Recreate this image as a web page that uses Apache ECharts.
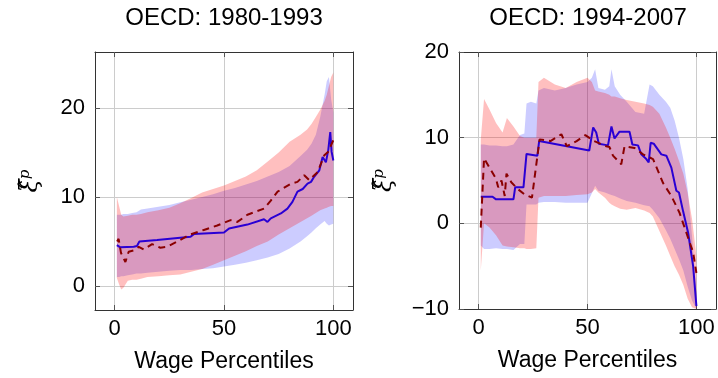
<!DOCTYPE html>
<html>
<head>
<meta charset="utf-8">
<script src="https://cdn.jsdelivr.net/npm/echarts@6/dist/echarts.min.js"></script>
<style>
  html, body { margin: 0; padding: 0; background: #fff; }
  #chart { width: 718px; height: 378px; }
</style>
</head>
<body>
<div id="chart"></div>
<script>
// ---- Panel titles and axis text ----
const panelTitles = ['OECD: 1980-1993', 'OECD: 1994-2007'];
const xAxisTitle = 'Wage Percentiles';
const xTicks = [0, 50, 100];
const yTicksLeft = [0, 10, 20];
const yTicksRight = [-10, 0, 10, 20];

// ---- 1980-1993: estimated profiles (percentile, value) ----
const leftBluePct = [1, 2.6, 8.7, 10.2, 11.3, 19.4, 34.7, 36.2, 50, 52.3, 60.7, 68.3, 69.9, 71.4, 76, 79, 81.3, 83.6, 86, 88.2, 89.8, 91.3, 93.6, 95.1, 96.6, 97.7, 98.6, 99.2, 100];
const leftBlue    = [4.6, 4.34, 4.4, 4.5, 5.0, 5.16, 5.53, 5.83, 6.0, 6.47, 6.9, 7.5, 7.2, 7.6, 8.15, 8.7, 9.45, 10.6, 10.9, 11.5, 11.7, 12.3, 13.0, 14.5, 13.9, 15.3, 17.3, 15.1, 14.1];
const leftRedPct  = [1.1, 1.8, 2.9, 4.9, 6.4, 8.7, 11, 13.3, 17.1, 20.9, 24, 28.6, 34.7, 40.8, 46.9, 53, 56.1, 60.7, 68.3, 71.4, 74.5, 80.6, 83.6, 86.7, 89, 92.8, 95.9, 97.7, 100];
const leftRed     = [5.0, 5.3, 3.7, 2.7, 3.85, 4.0, 4.4, 4.1, 4.7, 4.3, 4.4, 5.0, 5.8, 6.3, 6.8, 7.4, 7.2, 8.0, 8.7, 9.6, 10.6, 11.5, 11.7, 12.45, 11.9, 12.8, 14.7, 15.1, 16.4];

// ---- 1980-1993: confidence bands ----
const leftBandPct = [1, 2, 3, 4, 6, 8, 10, 12, 15, 20, 25, 30, 35, 40, 45, 50, 55, 60, 65, 70, 75, 80, 85, 88, 90, 92, 94, 96, 97, 98, 99, 100];
const leftBlueLo  = [1.0, 1.0, 1.1, 1.1, 1.2, 1.3, 1.4, 1.4, 1.5, 1.6, 1.7, 1.8, 1.8, 1.9, 2.0, 2.2, 2.4, 2.6, 2.9, 3.2, 3.6, 4.2, 5.0, 5.6, 6.0, 6.5, 6.9, 7.3, 7.0, 6.8, 6.9, 7.0];
const leftBlueHi  = [8.0, 8.0, 8.0, 8.1, 8.1, 8.2, 8.3, 8.6, 8.7, 8.9, 9.1, 9.4, 9.7, 10.0, 10.3, 10.7, 11.0, 11.4, 11.8, 12.3, 12.8, 13.5, 14.6, 15.3, 16.0, 17.0, 19.0, 21.5, 23.0, 23.5, 21.0, 19.5];
const leftRedLo   = [0.9, 0.2, -0.4, -0.2, 0.6, 0.7, 0.7, 0.8, 1.0, 1.1, 1.2, 1.3, 1.6, 1.9, 2.4, 2.9, 3.4, 3.9, 4.5, 5.0, 5.8, 6.5, 7.2, 7.6, 7.9, 8.2, 8.5, 8.7, 8.8, 8.9, 9.0, 9.0];
const leftRedHi   = [10.0, 9.0, 8.0, 7.8, 7.9, 8.0, 8.0, 8.1, 8.3, 8.5, 8.8, 9.3, 9.9, 10.5, 10.9, 11.3, 11.8, 12.3, 13.0, 14.0, 15.0, 16.2, 17.0, 17.6, 18.2, 19.0, 19.8, 20.8, 21.5, 22.5, 23.5, 24.0];

// ---- 1994-2007: estimated profiles (percentile, value) ----
const rightBluePct = [1, 6.4, 8, 16, 16.8, 20.6, 22, 27, 27.8, 50.8, 52.6, 54, 55.2, 59.4, 61, 62.4, 64.7, 69.3, 70.6, 73.2, 74.7, 77, 78.1, 79, 80.4, 83.9, 86.2, 88.5, 90.8, 92, 93.9, 96.2, 98.5, 100];
const rightBlue    = [3.1, 3.1, 2.8, 2.8, 4.2, 4.2, 8.1, 7.9, 9.6, 8.5, 11.2, 10.6, 9.3, 9.1, 11.3, 9.9, 10.7, 10.7, 9.2, 9.1, 8.05, 7.5, 7.1, 9.4, 9.3, 8.05, 7.9, 6.5, 3.8, 3.6, 1.4, -1.1, -5.0, -9.65];
const rightRedPct  = [1, 2.5, 5, 8, 9, 10.5, 12, 12.8, 15, 18, 21, 24.5, 28, 33, 38, 40.5, 45, 49, 53, 58.6, 60.1, 61.7, 65.5, 67, 71.6, 75.5, 80.1, 84.7, 88.5, 92.3, 95.4, 98.5, 100];
const rightRed     = [-0.5, 7.6, 6.5, 5.2, 4.2, 5.0, 3.2, 5.8, 4.8, 4.0, 3.4, 3.0, 9.8, 9.6, 10.4, 9.0, 9.6, 10.3, 9.6, 9.0, 8.9, 7.9, 6.9, 9.0, 8.8, 8.05, 7.5, 4.7, 3.2, 1.2, -1.1, -3.4, -5.8];

// ---- 1994-2007: confidence bands ----
const rightBandPct = [1, 2.5, 5, 8, 11, 13, 16, 19, 21, 22, 24, 26.5, 27.5, 30, 35, 40, 45, 50, 52, 53.5, 55, 58, 60, 61, 62.5, 65, 68, 72, 76, 78.5, 80, 83, 86, 88, 90, 92, 94, 96, 98, 100];
const rightBlueLo  = [-2.6, -3.0, -3.0, -2.9, -3.0, -3.0, -3.1, -2.4, -2.4, 2.2, 2.2, 2.2, 2.4, 2.5, 2.5, 2.4, 2.4, 2.4, 3.5, 4.4, 3.8, 3.6, 3.4, 3.3, 3.2, 2.9, 2.6, 2.4, 2.1, 2.0, 1.6, 0.6, -0.8, -1.8, -3.0, -4.2, -5.5, -7.4, -9.0, -10.0];
const rightBlueHi  = [9.2, 9.2, 9.1, 9.1, 9.0, 9.0, 9.2, 10.3, 10.5, 14.0, 14.2, 14.0, 15.5, 15.8, 15.5, 15.8, 16.2, 16.5, 17.0, 18.0, 15.8, 15.6, 16.0, 18.0, 16.0, 15.0, 14.2, 13.0, 12.8, 16.2, 16.0, 15.0, 14.2, 13.5, 12.0, 10.0, 7.5, 4.0, -1.5, -8.1];
const rightRedLo   = [-5.5, 0.0, -0.5, -1.4, -2.6, -2.7, -2.8, -2.9, -2.9, -3.0, -3.0, -2.9, 3.0, 3.2, 3.2, 3.2, 3.3, 3.4, 3.6, 4.0, 3.6, 3.0, 2.4, 2.2, 2.0, 1.7, 1.6, 1.8, 1.5, 1.2, 0.8, -0.9, -2.6, -3.8, -5.0, -6.0, -7.2, -8.8, -9.8, -10.0];
const rightRedHi   = [9.8, 14.5, 13.3, 11.7, 10.6, 12.3, 11.3, 10.2, 10.0, 10.0, 10.0, 10.0, 16.5, 17.0, 16.2, 15.8, 16.5, 17.0, 16.5, 15.5, 15.4, 15.2, 15.0, 14.8, 14.8, 14.6, 14.4, 14.2, 14.0, 13.8, 13.6, 12.8, 11.2, 10.0, 8.7, 7.3, 5.8, 3.5, 0.5, -3.8];

// ---- styling ----
const FONT = '"Liberation Sans", Arial, sans-serif';
const BLUE_LINE = '#2a00d4';
const RED_LINE = '#8a0000';
const BLUE_FILL = 'rgba(0, 0, 255, 0.2)';
const RED_FILL = 'rgba(255, 0, 0, 0.25)';
const FRAME = '#333';
const GRID_LINE = '#cccccc';

const zip = (xs, ys) => xs.map((x, i) => [x, ys[i]]);
const minus = v => String(v).replace('-', '\u2212');

// Shaded band: one polygon through hi points, back along lo points.
function band(gi, pct, lo, hi, fill) {
  const data = pct.map((p, i) => [p, lo[i], hi[i]]);
  return {
    type: 'custom', xAxisIndex: gi * 2, yAxisIndex: gi * 2, data,
    encode: { x: 0, y: [1, 2] }, clip: true, silent: true, z: 1,
    renderItem(params, api) {
      if (params.dataIndex !== 0) return null;
      const top = data.map(d => api.coord([d[0], d[2]]));
      const bot = data.map(d => api.coord([d[0], d[1]])).reverse();
      return { type: 'polygon', shape: { points: top.concat(bot) }, style: { fill, stroke: null } };
    }
  };
}

function line(gi, pct, vals, color, dashed) {
  return {
    type: 'line', xAxisIndex: gi * 2, yAxisIndex: gi * 2, data: zip(pct, vals),
    showSymbol: false, symbol: 'none', z: 3, silent: true,
    lineStyle: { color, width: 2, type: dashed ? [7, 5] : 'solid' }
  };
}

function xAxes(gi) {
  const base = {
    type: 'value', gridIndex: gi, min: -9, max: 109,
    axisLine: { show: true, onZero: false, lineStyle: { color: FRAME, width: 1 } },
    axisTick: { show: true, inside: true, length: 5, customValues: xTicks, lineStyle: { color: '#555' } }
  };
  return [
    Object.assign({}, base, {
      position: 'bottom',
      axisLabel: { customValues: xTicks, fontFamily: FONT, fontSize: 22, color: '#000', margin: 8 },
      splitLine: { show: true, lineStyle: { color: GRID_LINE, width: 1 } },
      name: xAxisTitle, nameLocation: 'middle', nameGap: 40,
      nameTextStyle: { fontFamily: FONT, fontSize: 23, color: '#000' }
    }),
    Object.assign({}, base, { position: 'top', axisLabel: { show: false }, splitLine: { show: false } })
  ];
}

function yAxes(gi, min, max, ticks, gap) {
  const base = {
    type: 'value', gridIndex: gi, min, max,
    axisLine: { show: true, onZero: false, lineStyle: { color: FRAME, width: 1 } },
    axisTick: { show: true, inside: true, length: 5, customValues: ticks, lineStyle: { color: '#555' } }
  };
  return [
    Object.assign({}, base, {
      position: 'left',
      axisLabel: { customValues: ticks, fontFamily: FONT, fontSize: 22, color: '#000', margin: 10, formatter: minus },
      splitLine: { show: true, lineStyle: { color: GRID_LINE, width: 1 } },
      name: '{x|\u03BE\u0302}{p|p}', nameLocation: 'middle', nameRotate: 90, nameGap: gap,
      nameTextStyle: {
        rich: {
          x: { fontFamily: '"DejaVu Serif", serif', fontStyle: 'italic', fontSize: 24, color: '#000' },
          p: { fontFamily: '"DejaVu Serif", serif', fontStyle: 'italic', fontSize: 15, color: '#000', verticalAlign: 'top', padding: [0, 0, 10, 0] }
        }
      }
    }),
    Object.assign({}, base, { position: 'right', axisLabel: { show: false }, splitLine: { show: false } })
  ];
}

const chart = echarts.init(document.getElementById('chart'), null, { renderer: 'canvas' });
chart.setOption({
  animation: false,
  backgroundColor: '#fff',
  graphic: [
    { type: 'text', x: 224, y: 18, style: { text: panelTitles[0], font: '24px ' + FONT, fill: '#000', textAlign: 'center', textVerticalAlign: 'middle' } },
    { type: 'text', x: 588, y: 18, style: { text: panelTitles[1], font: '24px ' + FONT, fill: '#000', textAlign: 'center', textVerticalAlign: 'middle' } }
  ],
  grid: [
    { left: 95, top: 52, width: 258, height: 258, containLabel: false },
    { left: 459, top: 52, width: 257, height: 257, containLabel: false }
  ],
  xAxis: xAxes(0).concat(xAxes(1)),
  yAxis: yAxes(0, -2.7, 26.3, yTicksLeft, 52).concat(yAxes(1, -10, 20, yTicksRight, 62)),
  series: [
    band(0, leftBandPct, leftBlueLo, leftBlueHi, BLUE_FILL),
    band(0, leftBandPct, leftRedLo, leftRedHi, RED_FILL),
    line(0, leftBluePct, leftBlue, BLUE_LINE, false),
    line(0, leftRedPct, leftRed, RED_LINE, true),
    band(1, rightBandPct, rightBlueLo, rightBlueHi, BLUE_FILL),
    band(1, rightBandPct, rightRedLo, rightRedHi, RED_FILL),
    line(1, rightBluePct, rightBlue, BLUE_LINE, false),
    line(1, rightRedPct, rightRed, RED_LINE, true)
  ]
});
</script>
</body>
</html>
